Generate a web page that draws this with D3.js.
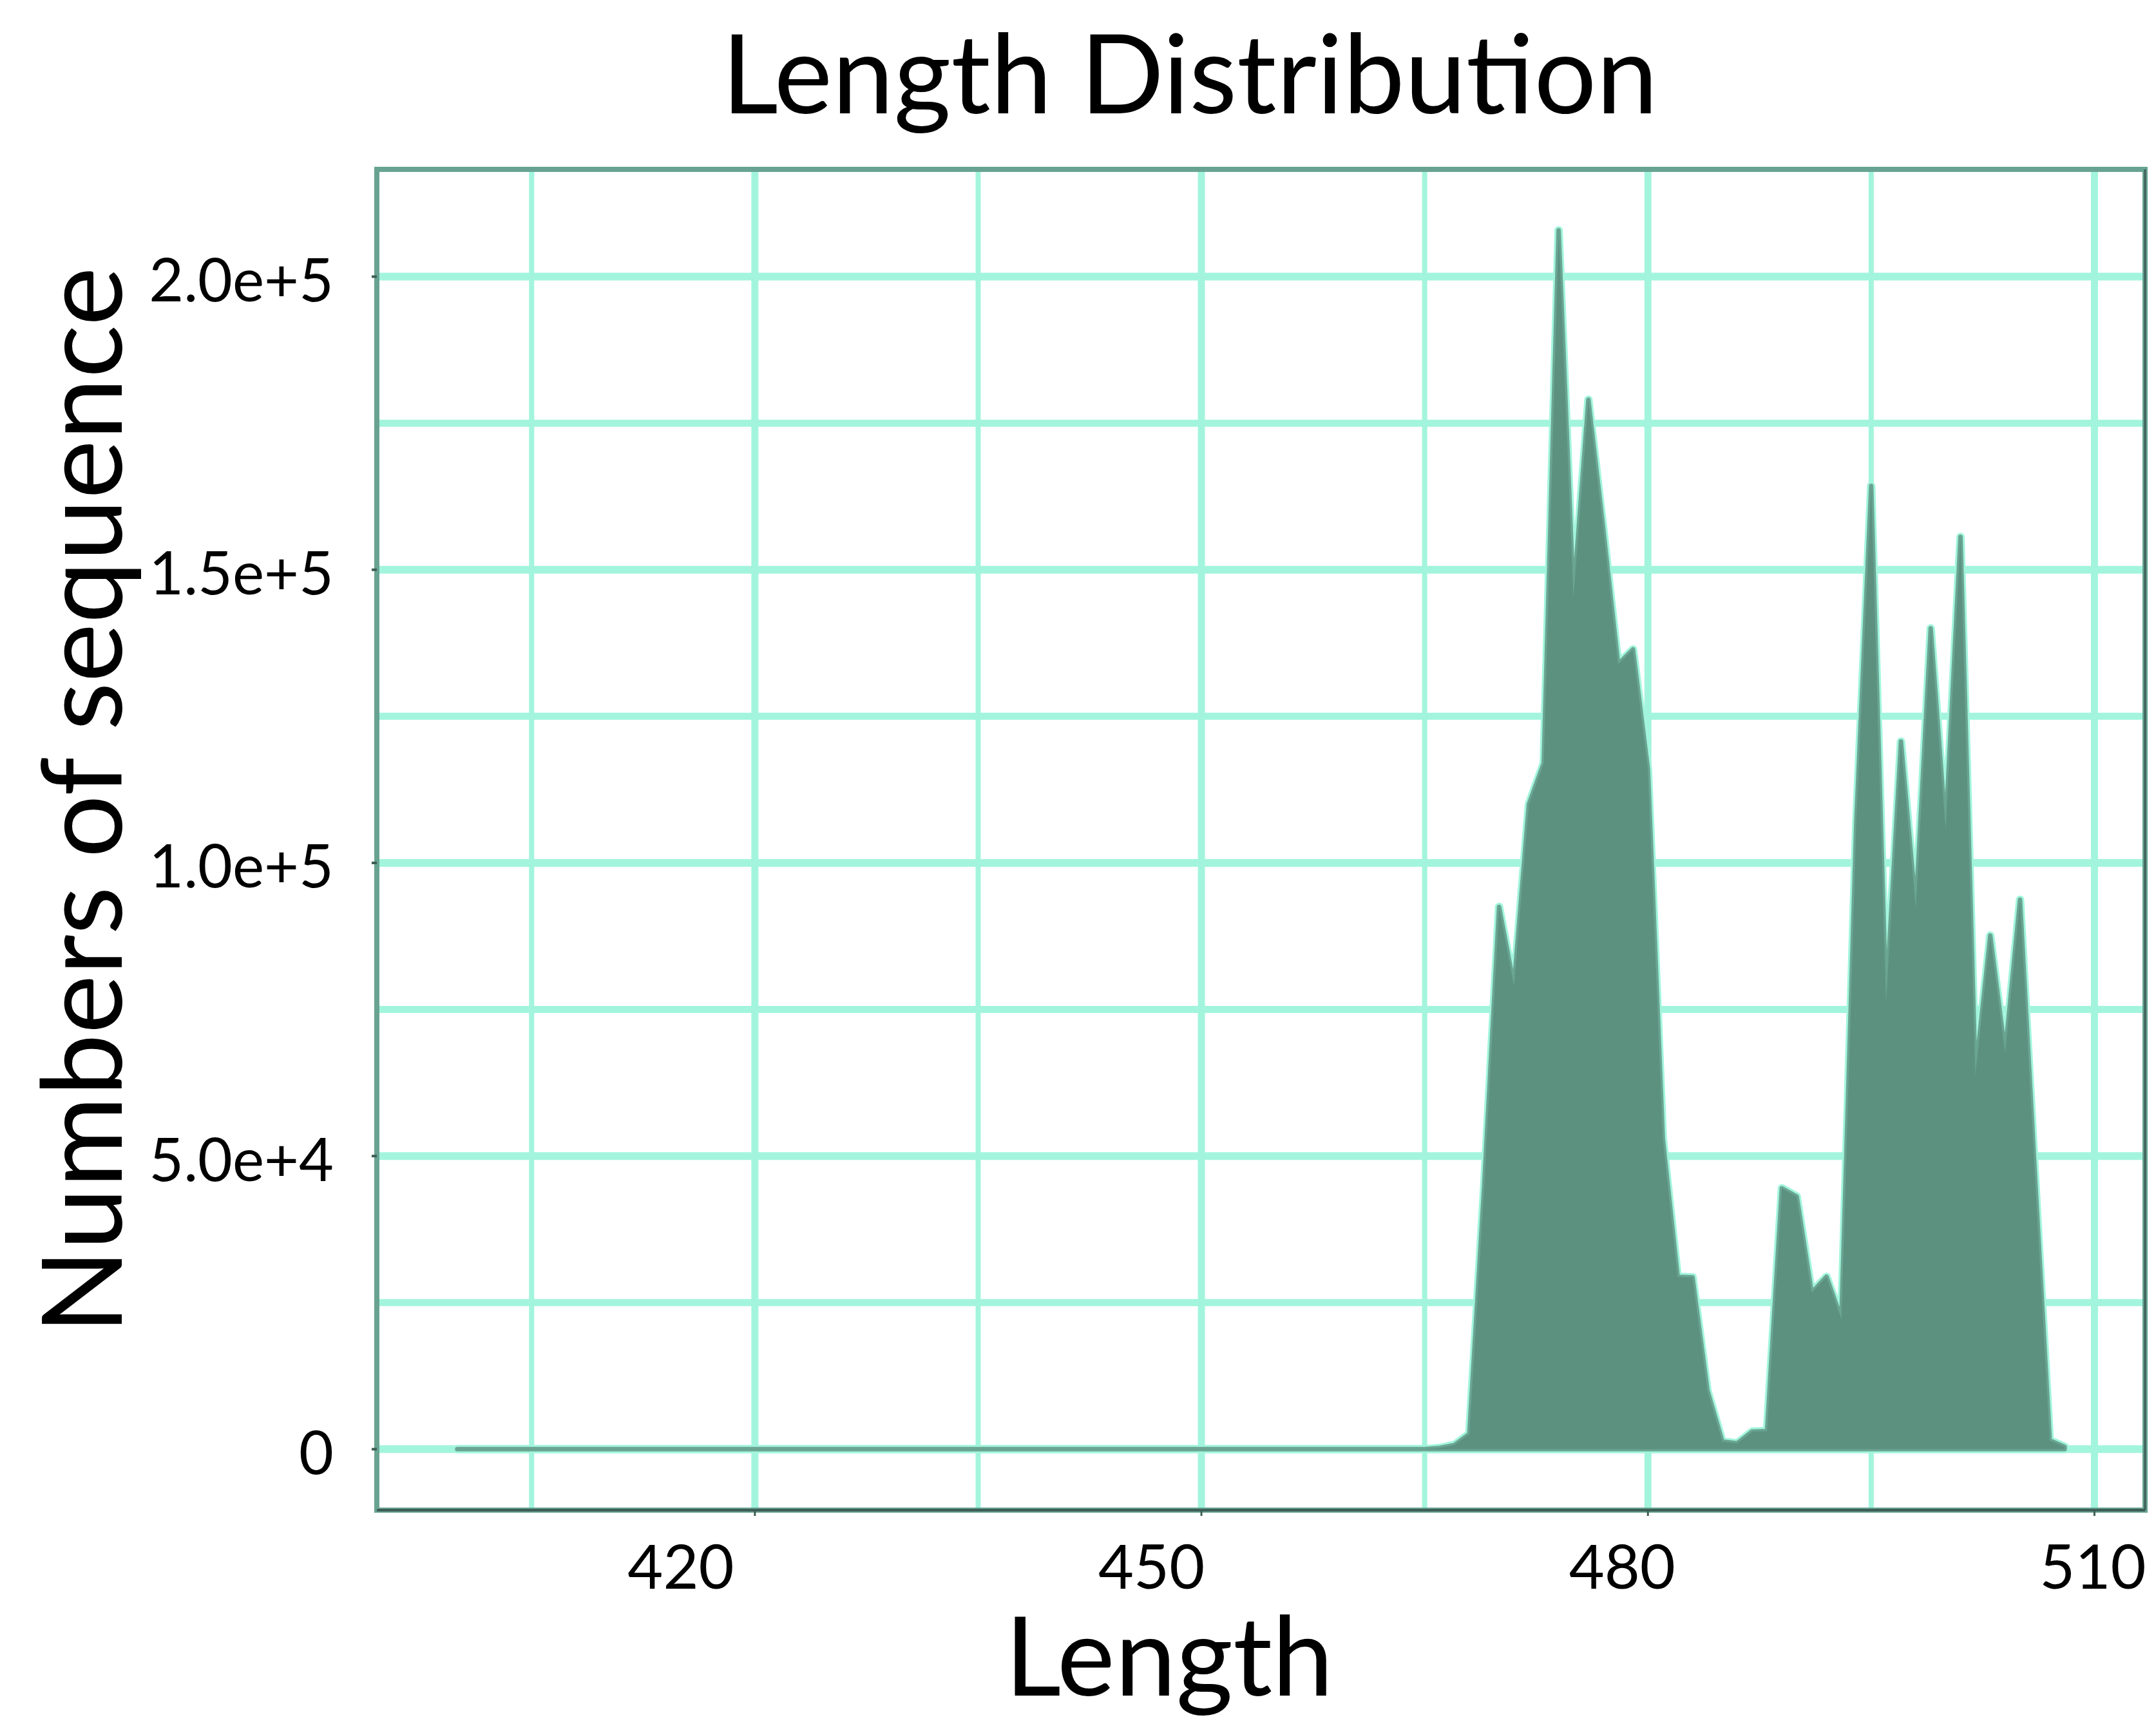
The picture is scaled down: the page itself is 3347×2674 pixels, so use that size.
<!DOCTYPE html>
<html>
<head>
<meta charset="utf-8">
<script src="https://cdnjs.cloudflare.com/ajax/libs/d3/7.8.5/d3.min.js"></script>
<style>
  body { margin: 0; background: #ffffff; }
  text { font-family: "Lato", "Open Sans", sans-serif; fill: #000000; }
</style>
</head>
<body>
<div id="chart"></div>
<script>

//read lengths (x) and number of sequences (y)
var lengths = [
    400, 401, 402, 403, 404, 405, 406, 407, 408, 409, 410, 411, 412, 413, 414, 415, 416, 417, 418, 419,
    420, 421, 422, 423, 424, 425, 426, 427, 428, 429, 430, 431, 432, 433, 434, 435, 436, 437, 438, 439,
    440, 441, 442, 443, 444, 445, 446, 447, 448, 449, 450, 451, 452, 453, 454, 455, 456, 457, 458, 459,
    460, 461, 462, 463, 464, 465, 466, 467, 468, 469, 470, 471, 472, 473, 474, 475, 476, 477, 478, 479,
    480, 481, 482, 483, 484, 485, 486, 487, 488, 489, 490, 491, 492, 493, 494, 495, 496, 497, 498, 499,
    500, 501, 502, 503, 504, 505, 506, 507, 508
];

var counts = [
    0, 0, 0, 0, 0, 0, 0, 0, 0, 0, 0, 0, 0, 0, 0, 0, 0, 0, 0, 0,
    0, 0, 0, 0, 0, 0, 0, 0, 0, 0, 0, 0, 0, 0, 0, 0, 0, 0, 0, 0,
    0, 0, 0, 0, 0, 0, 0, 0, 0, 0, 0, 0, 0, 0, 0, 0, 0, 0, 0, 0,
    0, 0, 0, 0, 0, 0, 200, 700, 2600, 45000, 92500, 79000, 110000, 117000, 207900, 145300, 179000, 157000, 133900, 136400,
    116000, 53000, 29400, 29300, 10000, 1300, 1000, 3000, 3100, 44500, 43100, 26700, 29400, 22200, 107000, 164300, 76200, 120700, 92200, 140000,
    105700, 155600, 63800, 87600, 67600, 93700, 47000, 1500, 400
];

var xMajor = [420, 450, 480, 510];
var xMinor = [405, 435, 465, 495];
var yMajor = [0, 50000, 100000, 150000, 200000];
var yMinor = [25000, 75000, 125000, 175000];
var yTickLabels = ["0", "5.0e+4", "1.0e+5", "1.5e+5", "2.0e+5"];

var data = lengths.map(function(d, i) { return {len: d, n: counts[i]}; });

//set sizes
var width = 3347,
    height = 2674;
var panel = {left: 585, right: 3330, top: 263, bottom: 2345};

var gridColor = "#a2f5dc",
    fillColor = "#5c9180",
    borderColor = "#68a392",
    darkColor = "#3d5e55";

var svg = d3.select("#chart")
    .append("svg")
    .attr("width", width)
    .attr("height", height);

svg.append("rect")
    .attr("width", width)
    .attr("height", height)
    .attr("fill", "#ffffff");

//scales with 5% padding like ggplot
var xExt = d3.extent(lengths),
    xPad = (xExt[1] - xExt[0]) * 0.05;
var x = d3.scaleLinear()
    .domain([xExt[0] - xPad, xExt[1] + xPad])
    .range([panel.left, panel.right]);

var yMax = d3.max(counts),
    yPad = yMax * 0.05;
var y = d3.scaleLinear()
    .domain([-yPad, yMax + yPad])
    .range([panel.bottom, panel.top]);

//x tick labels in the picture sit a bit left of their ticks
var xLabelPos = d3.scaleLinear().domain([420, 510]).range([1057, 3249]);

//grid
var grid = svg.append("g").attr("class", "grid");

grid.selectAll("line.hmin")
    .data(yMinor).enter()
    .append("line")
    .attr("x1", panel.left).attr("x2", panel.right)
    .attr("y1", function(d) { return y(d); })
    .attr("y2", function(d) { return y(d); })
    .attr("stroke", gridColor)
    .attr("stroke-width", 11);

grid.selectAll("line.hmaj")
    .data(yMajor).enter()
    .append("line")
    .attr("x1", panel.left).attr("x2", panel.right)
    .attr("y1", function(d) { return y(d); })
    .attr("y2", function(d) { return y(d); })
    .attr("stroke", gridColor)
    .attr("stroke-width", 12);

grid.selectAll("line.vmin")
    .data(xMinor).enter()
    .append("line")
    .attr("y1", panel.top).attr("y2", panel.bottom)
    .attr("x1", function(d) { return x(d); })
    .attr("x2", function(d) { return x(d); })
    .attr("stroke", gridColor)
    .attr("stroke-width", 8);

grid.selectAll("line.vmaj")
    .data(xMajor).enter()
    .append("line")
    .attr("y1", panel.top).attr("y2", panel.bottom)
    .attr("x1", function(d) { return x(d); })
    .attr("x2", function(d) { return x(d); })
    .attr("stroke", gridColor)
    .attr("stroke-width", 11);

//area
var area = d3.area()
    .x(function(d) { return x(d.len); })
    .y0(y(0))
    .y1(function(d) { return y(d.n); });

//light halo round the area
svg.append("path")
    .datum(data)
    .attr("d", area)
    .attr("fill", "none")
    .attr("stroke", gridColor)
    .attr("stroke-width", 13)
    .attr("stroke-linejoin", "round");

//outline (shows as the line along zero)
svg.append("path")
    .datum(data)
    .attr("d", area)
    .attr("fill", "none")
    .attr("stroke", fillColor)
    .attr("stroke-opacity", 0.8)
    .attr("stroke-width", 7)
    .attr("stroke-linejoin", "round");

svg.append("path")
    .datum(data)
    .attr("d", area)
    .attr("fill", fillColor);

//panel border
svg.append("rect")
    .attr("x", panel.left)
    .attr("y", panel.top)
    .attr("width", panel.right - panel.left)
    .attr("height", panel.bottom - panel.top)
    .attr("fill", "none")
    .attr("stroke", borderColor)
    .attr("stroke-width", 8);

svg.append("line")
    .attr("x1", panel.left).attr("x2", panel.right)
    .attr("y1", panel.bottom).attr("y2", panel.bottom)
    .attr("stroke", darkColor)
    .attr("stroke-width", 4);

svg.append("line")
    .attr("x1", panel.right).attr("x2", panel.right)
    .attr("y1", panel.top).attr("y2", panel.bottom)
    .attr("stroke", darkColor)
    .attr("stroke-width", 3);

//ticks
svg.selectAll("line.xtick")
    .data(xMajor).enter()
    .append("line")
    .attr("x1", function(d) { return x(d); })
    .attr("x2", function(d) { return x(d); })
    .attr("y1", panel.bottom).attr("y2", panel.bottom + 9)
    .attr("stroke", darkColor)
    .attr("stroke-width", 3);

svg.selectAll("line.ytick")
    .data(yMajor).enter()
    .append("line")
    .attr("x1", panel.left - 8).attr("x2", panel.left)
    .attr("y1", function(d) { return y(d); })
    .attr("y2", function(d) { return y(d); })
    .attr("stroke", darkColor)
    .attr("stroke-width", 4);

//tick labels
svg.selectAll("text.xlab")
    .data(xMajor).enter()
    .append("text")
    .attr("x", function(d) { return xLabelPos(d); })
    .attr("y", 2467)
    .attr("text-anchor", "middle")
    .style("font-size", "95px")
    .text(function(d) { return d; });

svg.selectAll("text.ylab")
    .data(yMajor).enter()
    .append("text")
    .attr("x", 518)
    .attr("y", function(d) { return y(d) + 5; })
    .attr("dy", "0.36em")
    .attr("text-anchor", "end")
    .style("font-size", "93px")
    .text(function(d, i) { return yTickLabels[i]; });

//titles
svg.append("text")
    .attr("x", 1847)
    .attr("y", 176)
    .attr("text-anchor", "middle")
    .style("font-size", "171px")
    .text("Length Distribution");

svg.append("text")
    .attr("x", 1815)
    .attr("y", 2633)
    .attr("text-anchor", "middle")
    .style("font-size", "170px")
    .text("Length");

svg.append("text")
    .attr("transform", "translate(189,1243) rotate(-90)")
    .attr("text-anchor", "middle")
    .style("font-size", "173px")
    .text("Numbers of sequence");

</script>
</body>
</html>
